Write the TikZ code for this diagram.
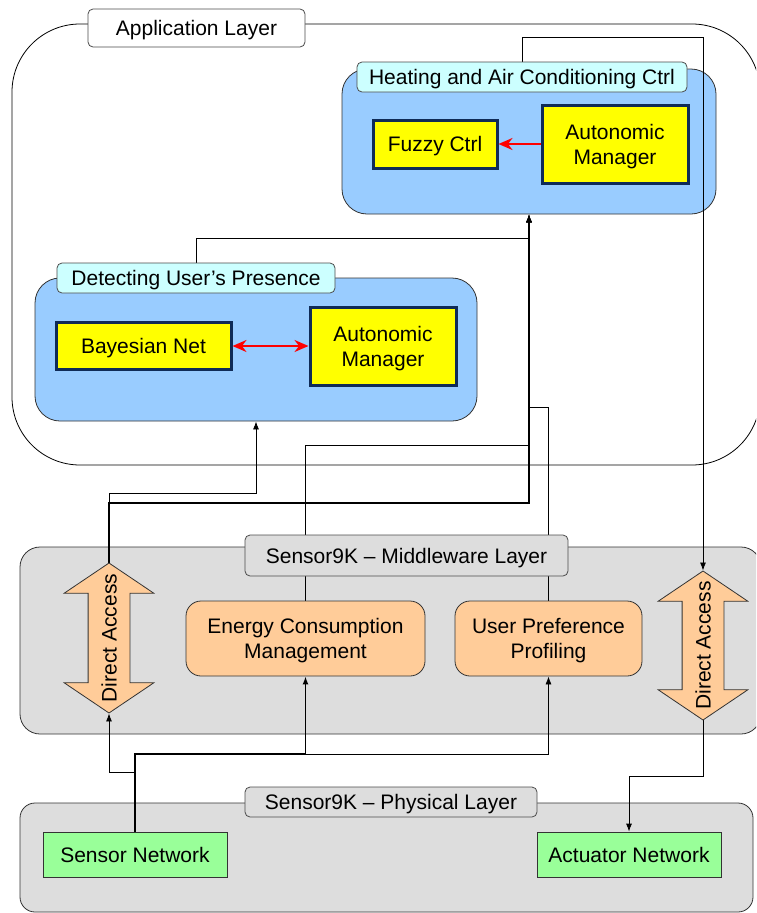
\documentclass[tikz,border=0pt]{standalone}
\usepackage{fontspec}
\setmainfont{Liberation Sans}
\usetikzlibrary{shapes.arrows,arrows.meta}
\pgfdeclarelayer{front}
\pgfsetlayers{main,front}

\definecolor{panelblue}{HTML}{99CCFF}
\definecolor{tagcyan}{HTML}{CCFFFF}
\definecolor{compyellow}{HTML}{FFFF00}
\definecolor{compnavy}{HTML}{0F2B57}
\definecolor{layergray}{HTML}{DDDDDD}
\definecolor{servorange}{HTML}{FFCC99}
\definecolor{netgreen}{HTML}{99FF99}

\tikzset{
  every node/.style={font=\fontsize{21}{25}\selectfont, inner sep=0pt, align=center, text depth=0pt},
  applayer/.style={draw=black, line width=0.8pt, fill=white, rounded corners=68pt},
  graylayer/.style={draw=black!80, line width=0.8pt, fill=layergray, rounded corners=20pt},
  panel/.style={draw=black!80, line width=0.8pt, fill=panelblue, rounded corners=25pt},
  tag/.style={draw=black!70, line width=0.8pt, rounded corners=5pt},
  comp/.style={draw=compnavy, line width=3pt, fill=compyellow},
  service/.style={draw=black!80, line width=0.8pt, fill=servorange, rounded corners=15pt},
  netbox/.style={draw=black!80, line width=0.8pt, fill=netgreen},
  access/.style={shape=double arrow, draw=black!80, line width=0.8pt, fill=servorange,
    rotate=90, minimum height=150pt, double arrow head extend=24pt,
    double arrow tip angle=112, inner xsep=0pt, inner ysep=20.5pt,
    text height=0pt, text depth=0pt},
  wire/.style={draw=black, line width=0.8pt},
  wirebold/.style={draw=black, line width=1.5pt},
  arrowed/.style={-{Latex[length=8pt,width=6pt]}},
  ctrl/.style={draw=red, line width=2pt},
  redtip/.tip={Stealth[length=14pt,width=12pt]},
}

\begin{document}
\begin{tikzpicture}[x=1pt,y=-1pt]
\useasboundingbox (0,0) rectangle (756,913);
\clip (0,0) rectangle (756,913);

% containers
\node[applayer, minimum width=748pt, minimum height=441pt] (app) at (386,244.5) {};
\node[panel, minimum width=374pt, minimum height=145pt] (hvac) at (529,141.5) {};
\node[panel, minimum width=442pt, minimum height=143pt] (dup) at (256,349.5) {};
\node[graylayer, minimum width=741pt, minimum height=187pt] (mid) at (390.5,640.5) {};
\node[graylayer, rounded corners=15pt, minimum width=733pt, minimum height=109pt] (phys) at (386.5,857.5) {};

\begin{pgfonlayer}{front}
% application layer
\node[tag, fill=white, minimum width=217pt, minimum height=38pt] (applabel) at (196.5,28) {Application Layer};
\node[tag, fill=tagcyan, minimum width=330pt, minimum height=30pt] (hvaclabel) at (522,77) {Heating and Air Conditioning Ctrl};
\node[comp, minimum width=124pt, minimum height=48pt] (fuzzy) at (435,144) {Fuzzy Ctrl};
\node[comp, minimum width=146pt, minimum height=78pt] (amtop) at (615,144) {Autonomic\\Manager};
\node[tag, fill=tagcyan, minimum width=278pt, minimum height=30pt] (duplabel) at (196,278) {Detecting User’s Presence};
\node[comp, minimum width=175pt, minimum height=47pt] (bayes) at (143.5,346) {Bayesian Net};
\node[comp, minimum width=146pt, minimum height=78pt] (amdup) at (383,346) {Autonomic\\Manager};

% middleware layer
\node[tag, fill=layergray, minimum width=323pt, minimum height=41pt] (midlabel) at (406.5,555.5) {Sensor9K – Middleware Layer};
\node[service, minimum width=239pt, minimum height=75pt] (energy) at (305.5,638.5) {Energy Consumption\\Management};
\node[service, minimum width=187pt, minimum height=75pt] (userpref) at (548.5,638.5) {User Preference\\Profiling};
\node[access] (da1) at (109,638) {};
\node[rotate=90] (da1text) at (da1.center) {Direct Access};
\node[access, minimum height=149pt] (da2) at (703,645.5) {};
\node[rotate=90] (da2text) at (da2.center) {Direct Access};

% physical layer
\node[tag, fill=layergray, minimum width=292pt, minimum height=30pt] (physlabel) at (391,802) {Sensor9K – Physical Layer};
\node[netbox, minimum width=184pt, minimum height=45pt] (sensor) at (135,854.5) {Sensor Network};
\node[netbox, minimum width=184pt, minimum height=45pt] (actuator) at (629,854.5) {Actuator Network};

% controller links inside the application modules
\draw[ctrl, -redtip] (amtop.west) -- (fuzzy.east);
\draw[ctrl, redtip-redtip] (bayes.east) -- (amdup.west);
\end{pgfonlayer}

% data and control flow between the layers
\draw[wire, arrowed] (hvaclabel.north) |- (da2.east |- 0,37) -- (da2.east);
\draw[wire, arrowed] (da2.west) -- (da2.west |- 0,776) -| (actuator.north);
\draw[wirebold, arrowed] (sensor.north) |- (energy.south |- 0,754) -- (energy.south);
\draw[wire, arrowed] (sensor.north) |- (userpref.south |- 0,754) -- (userpref.south);
\draw[wire, arrowed] (sensor.north) |- (da1.west |- 0,772) -- (da1.west);
\draw[wire, arrowed] (da1.east) |- (dup.south |- 0,493) -- (dup.south);
\draw[wirebold, arrowed] (da1.east) |- (hvac.south |- 0,503) -- (hvac.south);
\draw[wire, arrowed] (energy.north) |- (hvac.south |- 0,445) -- (hvac.south);
\draw[wire, arrowed] (userpref.north) |- (hvac.south |- 0,407) -- (hvac.south);
\draw[wire, arrowed] (duplabel.north) |- (hvac.south |- 0,238) -- (hvac.south);
\end{tikzpicture}
\end{document}
